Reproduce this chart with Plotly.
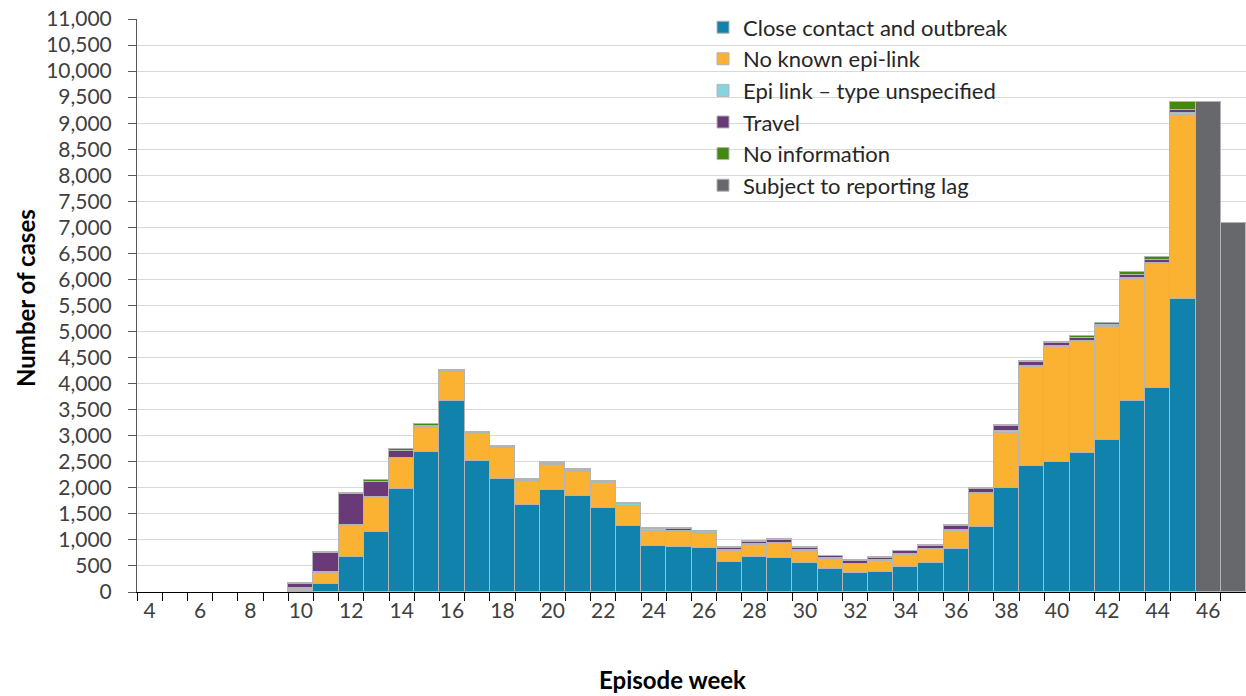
import plotly.graph_objects as go

# ---------------- data ----------------
weeks = list(range(4, 48))

# values for weeks 4..47 (0 = no bar)
close_contact = [0, 0, 0, 0, 0, 0,
                 20, 160, 680, 1160, 1970, 2695, 3670, 2520, 2175, 1675,
                 1950, 1840, 1610, 1275, 890, 870, 840, 575, 680, 660,
                 550, 435, 360, 380, 475, 550, 820, 1240, 1990, 2425,
                 2490, 2675, 2920, 3670, 3910, 5625,
                 0, 0]
no_known_link = [0, 0, 0, 0, 0, 0,
                 40, 205, 595, 640, 595, 450, 545, 515, 580, 440,
                 495, 470, 475, 385, 290, 290, 275, 220, 230, 275,
                 245, 195, 175, 210, 235, 270, 360, 640, 1070, 1900,
                 2220, 2130, 2165, 2345, 2380, 3540,
                 0, 0]
epi_unspecified = [0, 0, 0, 0, 0, 0,
                   10, 15, 15, 15, 15, 15, 20, 25, 25, 20,
                   20, 20, 20, 20, 25, 15, 15, 15, 15, 15,
                   15, 15, 10, 15, 15, 15, 15, 25, 25, 20,
                   20, 20, 15, 20, 20, 30,
                   0, 0]
travel = [0, 0, 0, 0, 0, 0,
          90, 375, 600, 305, 130, 30, 10, 5, 10, 10,
          10, 10, 10, 10, 10, 40, 30, 30, 30, 55,
          35, 40, 55, 55, 55, 55, 75, 80, 95, 70,
          50, 45, 30, 60, 60, 65,
          0, 0]
no_information = [0, 0, 0, 0, 0, 0,
                  5, 10, 10, 30, 30, 35, 15, 15, 15, 15,
                  15, 15, 15, 15, 15, 15, 15, 15, 15, 15,
                  15, 15, 10, 15, 15, 15, 15, 20, 25, 15,
                  15, 35, 40, 40, 65, 155,
                  0, 0]
reporting_lag = [0] * 42 + [9400, 7090]

series_names = ["Close contact and outbreak", "No known epi-link",
                "Epi link \u2013 type unspecified", "Travel",
                "No information", "Subject to reporting lag"]
series_values = [close_contact, no_known_link, epi_unspecified, travel,
                 no_information, reporting_lag]
series_colors = ["#1182AB", "#FBB131", "#86D4E0", "#6A3A78", "#438A0C", "#67686C"]

y_tick_vals = list(range(0, 11001, 500))
x_tick_vals = list(range(4, 47, 2))
x_tick_text = [str(v) for v in x_tick_vals]

FONT = "Lato, 'Open Sans', sans-serif"

fig = go.Figure()
for name, vals, col in zip(series_names, series_values, series_colors):
    fig.add_trace(go.Bar(
        x=weeks,
        y=[v if v else None for v in vals],
        name=name,
        legendgroup=name,
        marker=dict(color=col, line=dict(color="#B4B4B4", width=1)),
        hoverinfo="x+y+name",
    ))

# white panel behind the legend (gridlines are interrupted there)
fig.add_shape(type="rect", xref="paper", yref="paper",
              x0=(664 - 137) / 1109, x1=(1063 - 137) / 1109,
              y0=(592 - 192) / 573, y1=1.0,
              fillcolor="white", line=dict(width=0), layer="below")

fig.update_layout(
    width=1246, height=696,
    margin=dict(l=137, r=0, t=19, b=104),
    paper_bgcolor="white", plot_bgcolor="white",
    barmode="stack", bargap=0,
    font=dict(family=FONT, color="#404040"),
    showlegend=True,
    legend=dict(
        x=(703 - 137) / 1109, y=1.022, xanchor="left", yanchor="top",
        traceorder="grouped", tracegroupgap=0,
        font=dict(family=FONT, size=22, color="#262626"),
        bgcolor="rgba(0,0,0,0)", itemwidth=30,
    ),
    xaxis=dict(
        range=[3.5, 47.5], tickmode="array", tickvals=x_tick_vals,
        ticktext=x_tick_text, ticks="", showgrid=False, zeroline=False,
        showline=True, linecolor="#000000", linewidth=1,
        tickfont=dict(family=FONT, size=21, color="#404040"),
        minor=dict(tickmode="array", tickvals=[w - 0.5 for w in weeks] + [47.5],
                   ticks="outside", ticklen=8, tickcolor="#000000",
                   tickwidth=1, showgrid=False),
    ),
    yaxis=dict(
        range=[0, 11000], tickmode="array", tickvals=y_tick_vals,
        tickformat=",", showgrid=True, gridcolor="#D9D9D9", gridwidth=1,
        zeroline=False, showline=True, linecolor="#595959", linewidth=1,
        ticks="outside", ticklen=8, tickcolor="#595959",
        ticklabelstandoff=12,
        tickfont=dict(family=FONT, size=21, color="#404040"),
    ),
    annotations=[
        dict(text="<b>Number of cases</b>", xref="paper", yref="paper",
             x=(25 - 137) / 1109, y=(592 - 298) / 573, textangle=-90,
             showarrow=False, xanchor="center", yanchor="middle",
             font=dict(family=FONT, size=24, color="#000000")),
        dict(text="<b>Episode week</b>", xref="paper", yref="paper",
             x=(672 - 137) / 1109, y=(592 - 679) / 573,
             showarrow=False, xanchor="center", yanchor="middle",
             font=dict(family=FONT, size=24, color="#000000")),
    ],
)

fig.write_html("out.html",
               config={"displayModeBar": False},
               post_script="document.body.style.margin='0';document.body.style.overflow='hidden';")
